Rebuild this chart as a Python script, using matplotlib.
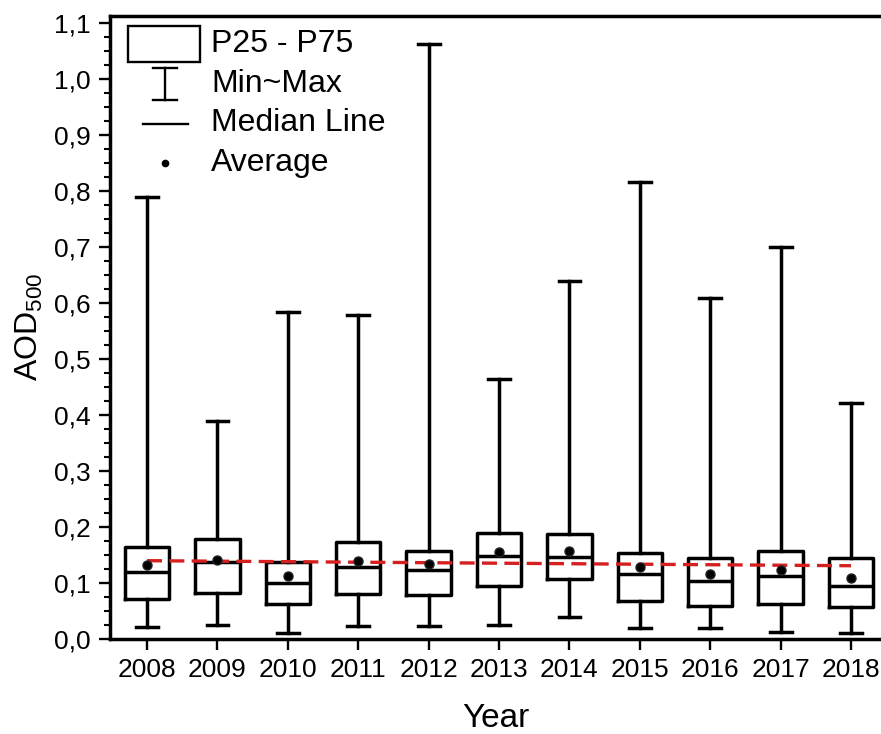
import matplotlib
matplotlib.use("Agg")
import matplotlib.pyplot as plt
from matplotlib.patches import Rectangle
from matplotlib.lines import Line2D
from matplotlib.ticker import MultipleLocator, FuncFormatter

plt.rcParams["font.family"] = ["Liberation Sans", "DejaVu Sans"]
plt.rcParams["mathtext.default"] = "regular"

# AOD500 statistics per year
years = [2008, 2009, 2010, 2011, 2012, 2013, 2014, 2015, 2016, 2017, 2018]
p25 = [0.070, 0.081, 0.062, 0.080, 0.077, 0.093, 0.106, 0.067, 0.058, 0.062, 0.057]
p75 = [0.164, 0.177, 0.136, 0.173, 0.156, 0.189, 0.187, 0.152, 0.143, 0.157, 0.143]
median = [0.119, 0.137, 0.100, 0.127, 0.123, 0.148, 0.146, 0.115, 0.103, 0.111, 0.094]
average = [0.131, 0.140, 0.111, 0.138, 0.133, 0.155, 0.157, 0.127, 0.116, 0.122, 0.108]
aod_min = [0.020, 0.025, 0.010, 0.023, 0.022, 0.025, 0.038, 0.019, 0.018, 0.012, 0.010]
aod_max = [0.789, 0.389, 0.583, 0.577, 1.062, 0.464, 0.639, 0.815, 0.609, 0.700, 0.421]
trend = [0.139, 0.130]  # linear trend at first and last year

W, H = 881, 734
fig = plt.figure(figsize=(W / 100, H / 100), dpi=100)
ax = fig.add_axes([110 / W, (H - 638.5) / H, (W - 110) / W, (638.5 - 16) / H])

stats = [
    dict(q1=a, q3=b, med=m, mean=mu, whislo=lo, whishi=hi, fliers=[])
    for a, b, m, mu, lo, hi in zip(p25, p75, median, average, aod_min, aod_max)
]
lw = 2.5
ax.bxp(
    stats, positions=years, widths=0.63, capwidths=0.31,
    showmeans=True, showfliers=False, patch_artist=False,
    boxprops=dict(color="black", linewidth=lw),
    whiskerprops=dict(color="black", linewidth=lw),
    capprops=dict(color="black", linewidth=lw),
    medianprops=dict(color="black", linewidth=lw),
    meanprops=dict(marker="o", markerfacecolor="black", markeredgecolor="#222222",
                   markersize=6.5, zorder=5),
)

ax.plot([years[0], years[-1]], trend, color="#d62020", linewidth=2.4,
        dashes=(4.5, 2.2), zorder=4)

ax.set_xlim(2007.474, 2018.426)
ax.set_ylim(0, 1.112)
ax.set_xticks(years)
ax.set_xticklabels([str(y) for y in years])
ax.yaxis.set_major_locator(MultipleLocator(0.1))
ax.yaxis.set_minor_locator(MultipleLocator(0.025))
ax.yaxis.set_major_formatter(FuncFormatter(lambda v, _: f"{v:.1f}".replace(".", ",")))

ax.tick_params(axis="both", which="major", direction="out", length=8, width=1.7,
               labelsize=19, pad=6)
ax.tick_params(axis="y", which="minor", direction="out", length=4, width=1.5)
ax.tick_params(axis="x", which="minor", bottom=False)
ax.spines["right"].set_visible(False)
for s in ("left", "bottom", "top"):
    ax.spines[s].set_linewidth(2.5)

ax.set_xlabel("Year", fontsize=24, labelpad=15)
ax.set_ylabel("AOD$_{500}$", fontsize=23, labelpad=6)


# hand-drawn legend, positioned in image pixels
def px(x, y):
    return x / W, 1 - y / H


tf = fig.transFigure
x0, y0 = px(128, 62)
x1, y1 = px(200, 26)
fig.add_artist(Rectangle((x0, y0), x1 - x0, y1 - y0, transform=tf,
                         facecolor="none", edgecolor="black", linewidth=1.7))
cx = 165
for seg in ([(cx, 68), (cx, 100)], [(153, 68), (177, 68)], [(153, 100), (177, 100)],
            [(143, 124), (188, 124)]):
    (ax_, ay), (bx, by) = px(*seg[0]), px(*seg[1])
    fig.add_artist(Line2D([ax_, bx], [ay, by], transform=tf, color="black", linewidth=1.7))
dx, dy = px(cx, 163)
fig.add_artist(Line2D([dx], [dy], transform=tf, marker="o", color="black", markersize=4.5))

labels = ["P25 - P75", "Min~Max", "Median Line", "Average"]
rows = [44, 84, 123, 163]
for lab, ry in zip(labels, rows):
    tx, ty = px(211, ry)
    fig.text(tx, ty, lab, fontsize=23, va="center", ha="left")

fig.savefig("out.png", dpi=100)
